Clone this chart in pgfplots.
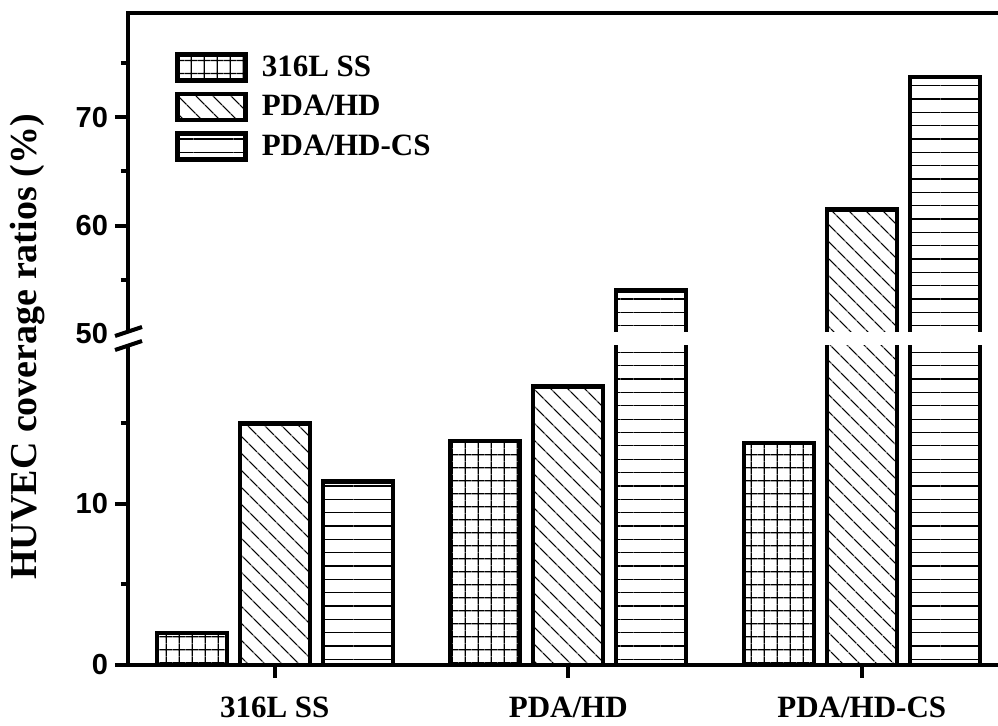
\documentclass[border=0pt]{standalone}
\usepackage{fontspec}
\setmainfont{Liberation Serif}
\newfontfamily\arialfont{Liberation Sans}
\usepackage{pgfplots}
\usepackage{pgfplotstable}
\pgfplotsset{compat=1.18}
\usetikzlibrary{patterns.meta}

% HUVEC coverage ratios (%)
\pgfplotstableread{
x   ss    hd    cs
0   2.0   15.0  11.4
1   13.9  17.3  54.0
2   13.8  61.5  73.7
}\huvec

% broken axis: 0..20 kept as is, 50..80 squeezed and put on top (50 -> 20.56)
\pgfplotsset{
  table/brk/.style={y expr={\thisrow{#1}>35 ? 20.56+0.6733*(\thisrow{#1}-50) : \thisrow{#1}}},
  barleg/.style={legend image code/.code={\draw[##1] (0pt,-6.5pt) rectangle (34pt,6.5pt);}},
  ss/.style={draw=black, line width=2.2pt, barleg,
    pattern={Hatch[distance=6.4pt, line width=0.65pt]}},
  hd/.style={draw=black, line width=2.2pt, barleg,
    pattern={Lines[angle=-45, distance=6.5pt, line width=0.65pt]}},
  cs/.style={draw=black, line width=2.2pt, barleg,
    pattern={Lines[angle=0, distance=6.67pt, line width=0.65pt]}},
}

\begin{document}
\begin{tikzpicture}
\path[use as bounding box] (0,0) rectangle (499pt,363pt);

\begin{axis}[
  at={(64pt,30.5pt)}, anchor=south west,
  scale only axis, width=440.25pt, height=325.95pt,
  xmin=-0.5, xmax=2.5, ymin=0, ymax=40.49,
  ybar=6.5pt, bar width=35pt,
  enlargelimits=false,
  axis line style={line width=2.2pt},
  tick align=outside, tick pos=left,
  major tick length=6.5pt, minor tick length=3.5pt,
  tick style={line width=2pt, black},
  xtick={0,1,2},
  xticklabels={316L SS, PDA/HD, PDA/HD-CS},
  xticklabel style={font=\bfseries\fontsize{15.5}{15.5}\selectfont, yshift=-6pt},
  ytick={0,10,20.56,27.29,34.03},
  yticklabels={0,10,50,60,70},
  minor ytick={5,15,23.93,30.66,37.40},
  /pgf/number format/assume math mode=true,
  yticklabel style={font=\arialfont\bfseries\fontsize{14.5}{14.5}\selectfont},
  legend style={draw=none, fill=none, at={(0,1)}, anchor=north west,
    xshift=23.5pt, yshift=-19.5pt, inner sep=0pt, row sep=4.5pt,
    column sep=6pt, nodes={inner sep=1pt},
    font=\bfseries\fontsize{15.5}{15.5}\selectfont},
  legend cell align=left,
]
\addplot[ss] table[x=x, brk=ss] {\huvec};
\addplot[hd] table[x=x, brk=hd] {\huvec};
\addplot[cs] table[x=x, brk=cs] {\huvec};
\legend{316L SS, PDA/HD, PDA/HD-CS}
\end{axis}

% gap of the axis break, and its marks
\fill[white] (55pt,190.5pt) rectangle (499pt,196.75pt);
\draw[line width=2pt] (57.5pt,195pt) -- (71pt,199.5pt);
\draw[line width=2pt] (57.5pt,188pt) -- (71pt,192.5pt);

\node[rotate=90, font=\bfseries\fontsize{19}{19}\selectfont] at (14pt,189.5pt)
  {HUVEC coverage ratios (\%)};
\end{tikzpicture}
\end{document}
